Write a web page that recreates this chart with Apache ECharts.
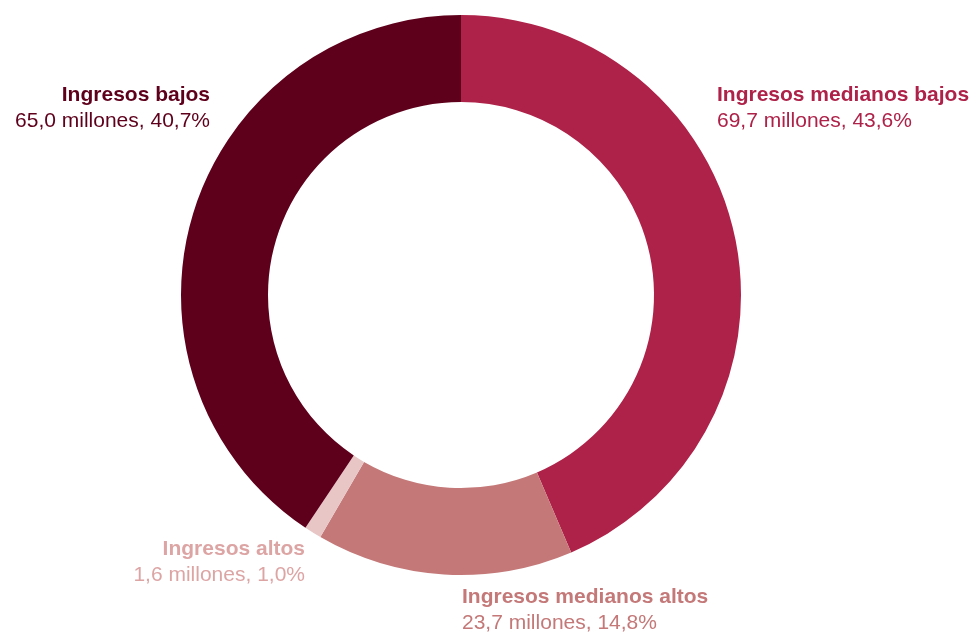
<!DOCTYPE html>
<html>
<head>
<meta charset="utf-8">
<script src="https://cdn.jsdelivr.net/npm/echarts@6/dist/echarts.min.js"></script>
<style>
html,body{margin:0;padding:0;background:#fff;}
#c{width:974px;height:633px;}
</style>
</head>
<body>
<div id="c"></div>
<script>
var categories = ['Ingresos medianos bajos', 'Ingresos medianos altos', 'Ingresos altos', 'Ingresos bajos'];
var millones = [69.7, 23.7, 1.6, 65.0];
var porcentajes = ['43,6', '14,8', '1,0', '40,7'];
var sliceColors = ['#AE2148', '#C47878', '#E8C6C6', '#5E001C'];
var labelColors = ['#AE2148', '#C47878', '#DDA4A4', '#5E001C'];
var labelPos = [
  {x: 717, y: 95, align: 'left'},
  {x: 462, y: 597, align: 'left'},
  {x: 305, y: 549, align: 'right'},
  {x: 210, y: 95, align: 'right'}
];

function fmt(v){ return v.toFixed(1).replace('.', ','); }

var chart = echarts.init(document.getElementById('c'), null, {renderer: 'canvas'});
var data = categories.map(function(name, i){
  return {
    name: name,
    value: millones[i],
    itemStyle: {color: sliceColors[i]},
    label: {
      color: labelColors[i],
      align: labelPos[i].align,
      formatter: '{b|' + name + '}\n{n|' + fmt(millones[i]) + ' millones, ' + porcentajes[i] + '%}',
      rich: {
        b: {fontWeight: 'bold', fontSize: 21, lineHeight: 26, color: labelColors[i], align: labelPos[i].align, fontFamily: 'Liberation Sans, Arial, sans-serif'},
        n: {fontSize: 21, lineHeight: 26, color: labelColors[i], align: labelPos[i].align, fontFamily: 'Liberation Sans, Arial, sans-serif'}
      }
    }
  };
});

chart.setOption({
  animation: false,
  series: [{
    type: 'pie',
    center: [461, 295],
    radius: [193, 280],
    startAngle: 90,
    clockwise: true,
    avoidLabelOverlap: false,
    label: {show: true, position: 'outside'},
    labelLine: {show: false},
    labelLayout: function(params){
      var p = labelPos[params.dataIndex];
      return {x: p.x, y: p.y + 13, align: p.align, verticalAlign: 'middle'};
    },
    emphasis: {disabled: true},
    data: data
  }]
});
</script>
</body>
</html>
